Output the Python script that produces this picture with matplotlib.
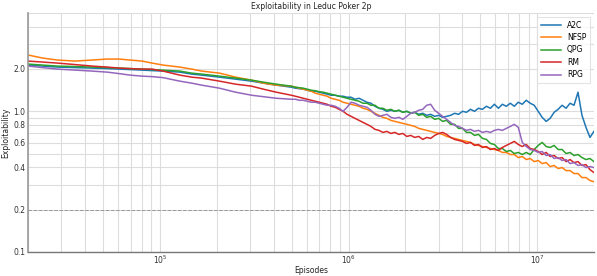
import matplotlib
matplotlib.use("Agg")
import matplotlib.pyplot as plt
from matplotlib.ticker import FixedLocator, FixedFormatter, LogLocator, NullFormatter

# episode grid shared by every curve
episodes = [
    2.0e4, 2.39e4, 2.86e4, 3.56e4, 4.38e4, 5.25e4, 6.08e4, 6.95e4, 8.04e4, 9.08e4,
    1.04e5, 1.275e5, 1.475e5, 1.666e5, 2.07e5, 2.52e5, 3.06e5, 3.54e5, 4.14e5,
    4.97e5, 5.22e5, 5.48e5, 5.75e5, 6.04e5, 6.34e5, 6.66e5, 6.99e5, 7.34e5, 7.70e5,
    8.08e5, 8.49e5, 8.91e5, 9.35e5, 9.82e5, 1.031e6,
    1.082e6, 1.136e6, 1.193e6, 1.252e6, 1.314e6, 1.380e6, 1.449e6, 1.521e6, 1.596e6, 1.676e6,
    1.759e6, 1.847e6, 1.939e6, 2.035e6, 2.137e6, 2.243e6, 2.355e6, 2.472e6, 2.595e6, 2.724e6,
    2.860e6, 3.002e6, 3.152e6, 3.309e6, 3.474e6, 3.647e6, 3.828e6, 4.019e6, 4.219e6, 4.429e6,
    4.650e6, 4.881e6, 5.124e6, 5.379e6, 5.647e6, 5.929e6, 6.224e6, 6.534e6, 6.859e6, 7.201e6,
    7.559e6, 7.936e6, 8.331e6, 8.746e6, 9.181e6, 9.639e6, 1.0119e7, 1.0623e7, 1.1152e7, 1.1707e7,
    1.229e7, 1.290e7, 1.355e7, 1.422e7, 1.493e7, 1.567e7, 1.645e7, 1.727e7, 1.813e7, 1.904e7,
    1.998e7,
]

a2c = [
    2.131, 2.096, 2.062, 2.045, 2.028, 2.012, 1.995, 1.980, 1.963, 1.947,
    1.931, 1.899, 1.838, 1.808, 1.749, 1.693, 1.638, 1.585, 1.534,
    1.484, 1.460, 1.448, 1.436, 1.413, 1.390, 1.390, 1.367, 1.345, 1.323,
    1.301, 1.301, 1.280, 1.280, 1.259, 1.259,
    1.218, 1.238, 1.198, 1.160, 1.141, 1.086, 1.051, 1.033, 1.000, 1.017,
    1.000, 1.017, 0.984, 1.000, 0.968, 0.984, 0.952, 0.968, 0.936, 0.952,
    0.921, 0.936, 0.906, 0.921, 0.936, 0.968, 0.952, 1.000, 0.984, 1.033,
    1.000, 1.051, 1.033, 1.086, 1.051, 1.122, 1.051, 1.122, 1.086, 1.141,
    1.086, 1.160, 1.122, 1.198, 1.141, 1.104, 1.000, 0.906, 0.848, 0.891,
    0.984, 1.033, 1.104, 1.051, 1.141, 1.104, 1.367, 0.936, 0.769, 0.652,
    0.720,
]

nfsp = [
    2.512, 2.391, 2.314, 2.276, 2.314, 2.352, 2.352, 2.314, 2.276, 2.202,
    2.131, 2.062, 1.995, 1.931, 1.868, 1.749, 1.665, 1.585, 1.534,
    1.509, 1.484, 1.460, 1.436, 1.413, 1.390, 1.345, 1.323, 1.301, 1.280,
    1.238, 1.218, 1.198, 1.160, 1.141, 1.122,
    1.104, 1.086, 1.051, 1.033, 1.000, 0.968, 0.936, 0.906, 0.891, 0.862,
    0.848, 0.834, 0.821, 0.808, 0.794, 0.781, 0.756, 0.744, 0.732, 0.720,
    0.708, 0.696, 0.685, 0.663, 0.652, 0.642, 0.631, 0.621, 0.611, 0.601,
    0.581, 0.572, 0.562, 0.553, 0.544, 0.535, 0.527, 0.510, 0.510, 0.493,
    0.493, 0.469, 0.477, 0.454, 0.462, 0.439, 0.447, 0.425, 0.432, 0.405,
    0.412, 0.392, 0.398, 0.379, 0.379, 0.361, 0.361, 0.338, 0.338, 0.322,
    0.316,
]

qpg = [
    2.166, 2.131, 2.096, 2.080, 2.062, 2.045, 2.028, 2.012, 1.995, 1.980,
    1.963, 1.931, 1.868, 1.838, 1.778, 1.721, 1.665, 1.611, 1.559,
    1.509, 1.484, 1.472, 1.460, 1.436, 1.413, 1.400, 1.378, 1.367, 1.345,
    1.323, 1.301, 1.280, 1.259, 1.238, 1.218,
    1.198, 1.179, 1.141, 1.141, 1.104, 1.104, 1.051, 1.051, 1.017, 1.033,
    1.000, 1.017, 0.984, 1.000, 0.968, 0.984, 0.936, 0.952, 0.906, 0.921,
    0.877, 0.891, 0.848, 0.862, 0.808, 0.808, 0.756, 0.756, 0.708, 0.708,
    0.674, 0.685, 0.642, 0.631, 0.591, 0.581, 0.544, 0.544, 0.518, 0.527,
    0.501, 0.510, 0.493, 0.510, 0.493, 0.535, 0.572, 0.601, 0.562, 0.553,
    0.572, 0.535, 0.535, 0.501, 0.510, 0.485, 0.493, 0.469, 0.454, 0.462,
    0.439,
]

rm = [
    2.276, 2.239, 2.202, 2.148, 2.096, 2.062, 2.028, 2.012, 1.995, 1.995,
    1.931, 1.808, 1.749, 1.721, 1.638, 1.559, 1.509, 1.436, 1.367,
    1.301, 1.280, 1.259, 1.238, 1.218, 1.198, 1.179, 1.160, 1.141, 1.122,
    1.086, 1.068, 1.033, 1.000, 0.952, 0.921,
    0.891, 0.862, 0.834, 0.808, 0.781, 0.744, 0.732, 0.708, 0.720, 0.696,
    0.708, 0.685, 0.696, 0.663, 0.674, 0.652, 0.663, 0.631, 0.652, 0.642,
    0.674, 0.696, 0.708, 0.685, 0.652, 0.631, 0.621, 0.611, 0.591, 0.601,
    0.572, 0.581, 0.553, 0.562, 0.535, 0.544, 0.527, 0.553, 0.572, 0.591,
    0.611, 0.581, 0.562, 0.581, 0.544, 0.535, 0.518, 0.493, 0.510, 0.477,
    0.485, 0.462, 0.469, 0.439, 0.454, 0.432, 0.439, 0.412, 0.418, 0.385,
    0.367,
]

rpg = [
    2.096, 2.045, 1.995, 1.963, 1.931, 1.899, 1.853, 1.808, 1.778, 1.764,
    1.735, 1.638, 1.585, 1.534, 1.460, 1.367, 1.301, 1.270, 1.238,
    1.218, 1.218, 1.198, 1.198, 1.179, 1.160, 1.160, 1.141, 1.122, 1.104,
    1.104, 1.086, 1.051, 1.000, 1.068, 1.160,
    1.141, 1.104, 1.086, 1.068, 1.017, 0.952, 0.921, 0.936, 0.952, 0.906,
    0.891, 0.906, 0.877, 0.921, 0.968, 0.984, 1.017, 1.033, 1.104, 1.122,
    1.017, 0.968, 0.921, 0.877, 0.834, 0.794, 0.781, 0.756, 0.732, 0.744,
    0.720, 0.732, 0.708, 0.720, 0.708, 0.732, 0.744, 0.732, 0.756, 0.781,
    0.808, 0.769, 0.601, 0.562, 0.535, 0.527, 0.510, 0.518, 0.485, 0.493,
    0.462, 0.469, 0.447, 0.454, 0.425, 0.432, 0.412, 0.418, 0.398, 0.405,
    0.398,
]

series = [("A2C", a2c), ("NFSP", nfsp), ("QPG", qpg), ("RM", rm), ("RPG", rpg)]
colors = ["#1f77b4", "#ff7f0e", "#2ca02c", "#d62728", "#9467bd"]

plt.rcParams["font.family"] = "DejaVu Sans"
plt.rcParams["font.size"] = 5.5

fig = plt.figure(figsize=(5.97, 2.76), dpi=100)
ax = fig.add_axes([0.047, 0.087, 0.948, 0.866])

for (name, vals), c in zip(series, colors):
    ax.plot(episodes, vals, color=c, lw=1.1, label=name)

ax.axhline(0.2, color="#999999", ls="--", lw=0.7, zorder=1)

ax.set_xscale("log")
ax.set_yscale("log")
ax.set_xlim(2e4, 2e7)
ax.set_ylim(0.1, 5.0)

yt = [0.1, 0.2, 0.4, 0.6, 0.8, 1.0, 2.0]
ax.yaxis.set_major_locator(FixedLocator(yt))
ax.yaxis.set_major_formatter(FixedFormatter([f"{v:.1f}" for v in yt]))
ax.yaxis.set_minor_locator(LogLocator(base=10, subs=range(1, 10)))
ax.yaxis.set_minor_formatter(NullFormatter())
ax.xaxis.set_minor_locator(LogLocator(base=10, subs=range(2, 10)))
ax.xaxis.set_minor_formatter(NullFormatter())

ax.grid(True, which="both", color="#dddddd", lw=0.8, zorder=0)
ax.set_axisbelow(True)
ax.tick_params(which="both", length=0, colors="#333333")
ax.tick_params(axis="x", pad=1)
ax.tick_params(axis="y", pad=2)

for s in ["top", "right"]:
    ax.spines[s].set_visible(False)
ax.spines["left"].set_color("#999999")
ax.spines["left"].set_linewidth(1.2)
ax.spines["bottom"].set_color("#777777")
ax.spines["bottom"].set_linewidth(1.0)

ax.set_title("Exploitability in Leduc Poker 2p", fontsize=5.5, pad=3, color="#222222")
ax.set_xlabel("Episodes", labelpad=0.5, color="#222222")
ax.set_ylabel("Exploitability", labelpad=2, color="#222222")

leg = ax.legend(loc="upper right", fontsize=5.5, frameon=True, fancybox=False,
                handlelength=2.6, borderpad=0.5, labelspacing=0.45)
leg.get_frame().set_edgecolor("#dddddd")
leg.get_frame().set_linewidth(0.8)

fig.savefig("out.png", dpi=100)
